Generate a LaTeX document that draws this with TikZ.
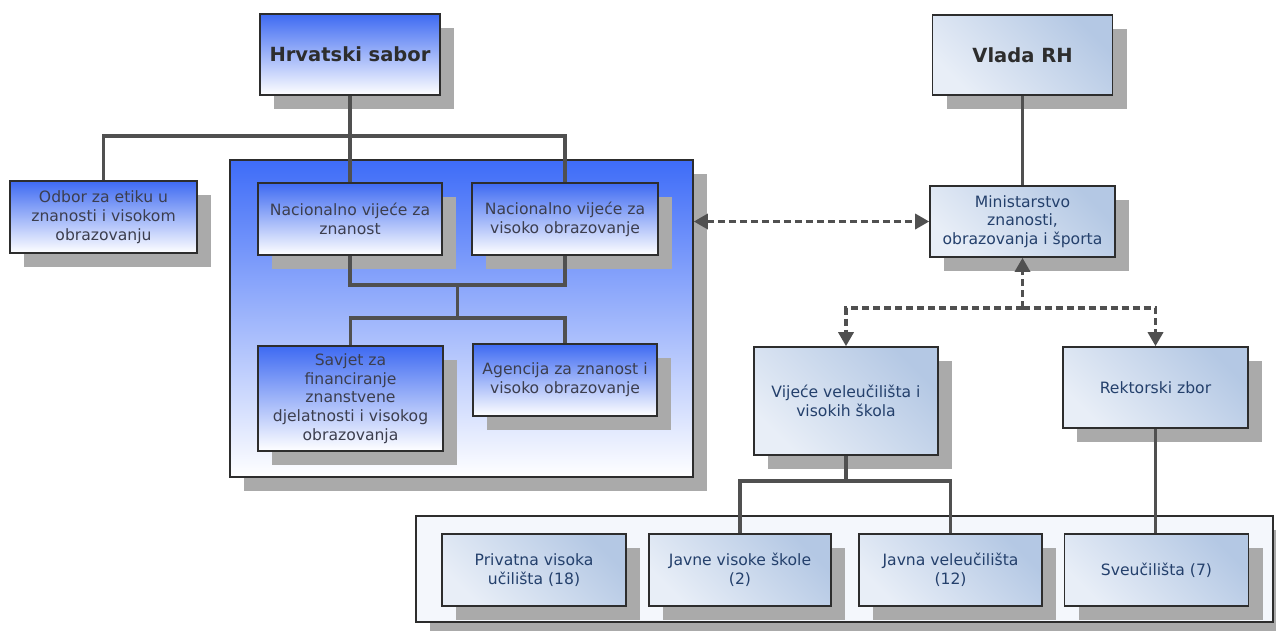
\documentclass[tikz,border=0pt]{standalone}
\usepackage{fontspec}
\setmainfont{DejaVu Sans}
\usetikzlibrary{shadows,arrows.meta}
\definecolor{boxblue}{RGB}{62,106,242}
\definecolor{panelblue}{RGB}{62,108,248}
\definecolor{lightl}{RGB}{232,238,247}
\definecolor{lightr}{RGB}{180,200,228}
\definecolor{shadowgray}{RGB}{170,170,170}
\definecolor{edge}{RGB}{45,45,45}
\definecolor{conncol}{RGB}{80,80,80}
\definecolor{bluetext}{RGB}{60,62,78}
\definecolor{navytext}{RGB}{36,64,108}
\definecolor{contfill}{RGB}{244,247,252}
\tikzset{
  shad/.style={drop shadow={shadow xshift=14pt,shadow yshift=-14pt,fill=shadowgray,opacity=1}},
  basebox/.style={shad,draw=edge,line width=1.6pt,align=center,inner sep=3pt,
    font=\fontsize{15.6}{18.8}\selectfont},
  bluebox/.style={basebox,top color=boxblue,bottom color=white,text=bluetext},
  lightbox/.style={basebox,left color=lightl,right color=lightr,shading angle=135,text=navytext},
  titletext/.style={font=\fontsize{19.5}{24}\selectfont\bfseries,text=edge},
  conn/.style={draw=conncol,line width=3.3pt},
  dconn/.style={draw=conncol,line width=3.3pt,dash pattern=on 7pt off 4pt,
    -{Triangle[length=14pt,width=15pt]}},
}
\begin{document}
\begin{tikzpicture}[x=1pt,y=-1pt]
\useasboundingbox (0,0) rectangle (1276,630);
% panel
\node[shad,draw=edge,line width=1.6pt,top color=panelblue,bottom color=white,
  minimum width=463,minimum height=317] (panel) at (461.5,318.5) {};
% container
\node[shad,draw=edge,line width=1.4pt,fill=contfill,
  minimum width=857,minimum height=106] (cont) at (844.5,569) {};
% left nodes
\node[bluebox,titletext,minimum width=180,minimum height=81] (sabor) at (350,54.5) {Hrvatski sabor};
\node[bluebox,minimum width=187,minimum height=72] (odbor) at (103.5,217) {Odbor za etiku u\\znanosti i visokom\\obrazovanju};
\node[bluebox,minimum width=184,minimum height=72] (nvz) at (350,219) {Nacionalno vijeće za\\znanost};
\node[bluebox,minimum width=186,minimum height=72] (nvvo) at (565,219) {Nacionalno vijeće za\\visoko obrazovanje};
\node[bluebox,minimum width=185,minimum height=105] (savjet) at (350.5,398.5) {Savjet za\\financiranje\\znanstvene\\djelatnosti i visokog\\obrazovanja};
\node[bluebox,minimum width=184,minimum height=72] (agencija) at (565,380) {Agencija za znanost i\\visoko obrazovanje};
% right nodes
\node[lightbox,titletext,minimum width=180,minimum height=80] (vlada) at (1022.5,55) {Vlada RH};
\node[lightbox,minimum width=185,minimum height=71] (mzos) at (1022.5,221.5) {Ministarstvo\\znanosti,\\obrazovanja i športa};
\node[lightbox,minimum width=184,minimum height=108] (vijece) at (846,401) {Vijeće veleučilišta i\\visokih škola};
\node[lightbox,minimum width=185,minimum height=81] (rektor) at (1155.5,387.5) {Rektorski zbor};
\node[lightbox,minimum width=184,minimum height=72] (privatna) at (534,570) {Privatna visoka\\učilišta (18)};
\node[lightbox,minimum width=182,minimum height=72] (javne) at (740,570) {Javne visoke škole\\(2)};
\node[lightbox,minimum width=183,minimum height=72] (javnavel) at (950.5,570) {Javna veleučilišta\\(12)};
\node[lightbox,minimum width=184,minimum height=72] (sveuc) at (1156.5,570) {Sveučilišta (7)};
% connectors left
\coordinate (j1) at (350,136);
\coordinate (j2) at (457.5,285);
\coordinate (j3) at (457.5,318);
\draw[conn] (sabor.south) -- (j1);
\draw[conn] (odbor.north) |- (j1) -| (nvvo.north);
\draw[conn] (j1) -- (nvz.north);
\draw[conn] (nvz.south) |- (j2) -| (nvvo.south);
\draw[conn] (j2) -- (j3);
\draw[conn] (savjet.north) |- (j3) -| (agencija.north);
% connectors right
\draw[conn] (vlada.south) -- (mzos.north);
\coordinate (pe) at (panel.east |- mzos.west);
\draw[dconn,{Triangle[length=14pt,width=15pt]}-{Triangle[length=14pt,width=15pt]}] (pe) -- (mzos.west);
\coordinate (j4) at (1022.5,308);
\draw[dconn] (j4) -- (mzos.south);
\draw[dconn] (j4) -| (vijece.north);
\draw[dconn] (j4) -| (rektor.north);
\coordinate (j5) at (846,481);
\draw[conn] (vijece.south) -- (j5);
\draw[conn] (javne.north) |- (j5) -| (javnavel.north);
\draw[conn] (rektor.south) -- (rektor.south |- sveuc.north);
\end{tikzpicture}
\end{document}
